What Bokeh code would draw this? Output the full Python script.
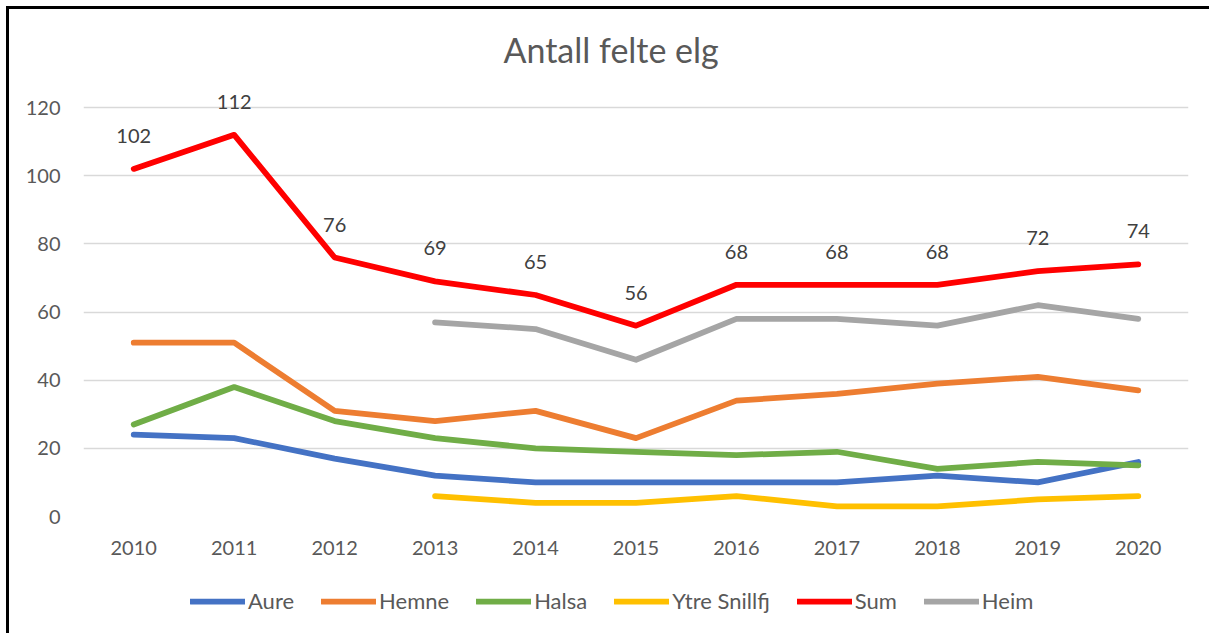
from bokeh.plotting import figure
from bokeh.models import ColumnDataSource, Legend, LegendItem, FixedTicker, LabelSet
from bokeh.core.properties import value
from bokeh.layouts import column
from bokeh.embed import file_html
from bokeh.resources import INLINE

years = ["2010", "2011", "2012", "2013", "2014", "2015", "2016", "2017", "2018", "2019", "2020"]
aure = [24, 23, 17, 12, 10, 10, 10, 10, 12, 10, 16]
hemne = [51, 51, 31, 28, 31, 23, 34, 36, 39, 41, 37]
halsa = [27, 38, 28, 23, 20, 19, 18, 19, 14, 16, 15]
ytre_years = ["2013", "2014", "2015", "2016", "2017", "2018", "2019", "2020"]
ytre = [6, 4, 4, 6, 3, 3, 5, 6]
sum_vals = [102, 112, 76, 69, 65, 56, 68, 68, 68, 72, 74]
heim_years = ["2013", "2014", "2015", "2016", "2017", "2018", "2019", "2020"]
heim = [57, 55, 46, 58, 58, 56, 62, 58]
y_ticks = [0, 20, 40, 60, 80, 100, 120]

FONT = "Lato"
TXT = "#595959"
GRID = "#d9d9d9"
W = 5.75

p = figure(width=1200, height=570, x_range=years, y_range=(0, 130),
           output_backend="svg", toolbar_location=None,
           title="Antall felte elg",
           min_border_left=74, min_border_right=21, min_border_top=64, min_border_bottom=63)
p.x_range.range_padding = 0
p.outline_line_color = None

p.title.align = "left"
p.title.offset = 420
p.title.standoff = 8
p.title.text_font = FONT
p.title.text_font_size = "34px"
p.title.text_font_style = "normal"
p.title.text_color = TXT

p.yaxis.ticker = FixedTicker(ticks=y_ticks)
p.yaxis.axis_line_color = None
p.yaxis.major_tick_line_color = None
p.yaxis.minor_tick_line_color = None
p.yaxis.major_label_text_font = FONT
p.yaxis.major_label_text_font_size = "20px"
p.yaxis.major_label_text_color = TXT
p.yaxis.major_label_standoff = 17

p.xaxis.axis_line_color = None
p.xaxis.major_tick_line_color = None
p.xaxis.major_label_text_font = FONT
p.xaxis.major_label_text_font_size = "20px"
p.xaxis.major_label_text_color = TXT
p.xaxis.major_label_standoff = 18

p.xgrid.grid_line_color = None
p.ygrid.grid_line_color = GRID
p.ygrid.grid_line_width = 1.5

series = [
    ("Aure", years, aure, "#4472C4"),
    ("Hemne", years, hemne, "#ED7D31"),
    ("Halsa", years, halsa, "#70AD47"),
    ("Ytre Snillfj", ytre_years, ytre, "#FFC000"),
    ("Sum", years, sum_vals, "#FF0000"),
    ("Heim", heim_years, heim, "#A5A5A5"),
]
for name, xs, ys, col in series:
    p.line(xs, ys, line_color=col, line_width=W, line_cap="round", line_join="round")

src = ColumnDataSource(dict(x=years, y=sum_vals, t=[str(v) for v in sum_vals]))
labels = LabelSet(x="x", y="y", text="t", source=src, text_align="center",
                  text_baseline="middle", y_offset=33, text_font=value(FONT),
                  text_font_size="20px", text_color="#404040")
p.add_layout(labels)

# legend strip (series drawn off-view, only their legend swatches show)
q = figure(width=1200, height=54, x_range=years, y_range=(1000, 1001),
           output_backend="svg", toolbar_location=None, min_border=0,
           x_axis_location=None, y_axis_location=None)
q.grid.visible = False
q.outline_line_color = None
items = []
for name, xs, ys, col in series:
    r = q.line(xs, ys, line_color=col, line_width=W, line_cap="round")
    items.append(LegendItem(label=name, renderers=[r]))
legend = Legend(items=items, orientation="horizontal", location=(107, 19),
                label_text_font=FONT, label_text_font_size="22px",
                label_text_color=TXT, glyph_width=55, glyph_height=20,
                label_standoff=3, spacing=27, border_line_color=None,
                background_fill_alpha=0, margin=0, padding=4)
q.add_layout(legend)

layout = column(p, q, margin=(6, 0, 0, 6),
                styles={"border-left": "3px solid black", "border-top": "3px solid black"})

open("out.html", "w").write(file_html(layout, INLINE))
